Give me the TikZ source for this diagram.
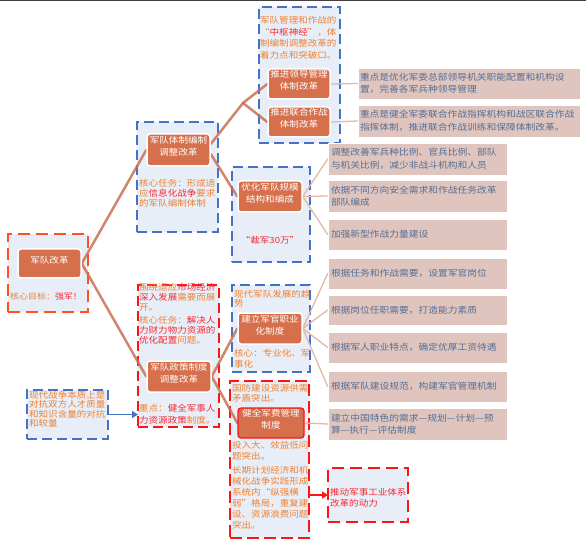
\documentclass[tikz,border=0pt]{standalone}
\usepackage{fontspec}
\newfontfamily\cjk{Noto Sans CJK SC}[FakeStretch=1.12]
\usetikzlibrary{arrows.meta,fit}
\pgfdeclarelayer{bg}
\pgfdeclarelayer{grp}
\pgfdeclarelayer{edge}
\pgfsetlayers{bg,grp,edge,main}
\definecolor{nodefill}{RGB}{214,112,76}
\definecolor{grpfill}{RGB}{232,238,247}
\definecolor{grpblue}{RGB}{68,114,196}
\definecolor{grpred}{RGB}{255,20,20}
\definecolor{grporange}{RGB}{255,80,30}
\definecolor{boxfill}{RGB}{223,197,189}
\definecolor{boxtext}{RGB}{84,110,150}
\definecolor{txtorange}{RGB}{240,128,48}
\definecolor{txtred}{RGB}{245,40,50}
\definecolor{thickc}{RGB}{200,112,84}
\definecolor{thinc}{RGB}{228,184,168}
\newcommand\txo[1]{\textcolor{txtorange}{#1}}
\newcommand\txr[1]{\textcolor{txtred}{#1}}
\begin{document}
\begin{tikzpicture}[x=1pt,y=-1pt,
  grp/.style={fill=grpfill, line width=2.2pt, dash pattern=on 10pt off 5pt, inner sep=0pt, outer sep=0pt},
  bluegrp/.style={grp, draw=grpblue},
  redgrp/.style={grp, draw=grpred},
  mnode/.style={fill=nodefill, draw=white, line width=1.5pt, rounded corners=3pt, text=white,
    align=center, inner sep=0pt, font=\cjk\fontsize{8.5}{12}\selectfont},
  tbox/.style={fill=boxfill, draw=white, line width=0.6pt, inner ysep=0pt, text=boxtext,
    align=left, font=\cjk\fontsize{8.7}{12.5}\selectfont},
  tboxA/.style={tbox, inner xsep=2pt, text width=218pt, minimum height=#1},
  tboxB/.style={tbox, inner xsep=3pt, text width=173pt, minimum height=#1},
  gtext/.style={anchor=north west, inner sep=0pt, align=left, text=txtorange},
  thickedge/.style={draw=thickc, draw opacity=0.85, line width=2.5pt, line cap=round, line join=round},
  thinedge/.style={draw=thinc, line width=1.3pt, line cap=round}
]
\useasboundingbox (0,0) rectangle (586,545);
\begin{pgfonlayer}{bg}
\fill[white] (0,0) rectangle (586,545);
\end{pgfonlayer}
\draw[black!75, line width=0.8pt] (0,0.8) -- (586,0.8);

% ---------- group containers ----------
\begin{pgfonlayer}{grp}
\node[grp, draw=grporange, dash pattern=on 12pt off 6pt, fit={(8,234) (88,312)}] (g0) {};
\node[bluegrp, fit={(137,122) (218,232)}] (g1) {};
\node[bluegrp, fit={(259,7) (340,143)}] (g2) {};
\node[bluegrp, fit={(232,167) (310,262)}] (g3) {};
\node[redgrp, fit={(138,285) (219,427)}] (g4) {};
\node[bluegrp, fit={(232,285) (310,372)}] (g5) {};
\node[redgrp, dash pattern=on 12pt off 5pt, fit={(230,381) (309,538)}] (g6) {};
\node[bluegrp, fit={(27,390) (108,439)}] (g7) {};
\node[redgrp, dash pattern=on 12pt off 6pt, fit={(328,468) (408,522)}] (g8) {};
\end{pgfonlayer}

% ---------- main nodes ----------
\node[mnode, fit={(18,249) (81,278)}] (n0) {军队改革};
\node[mnode, fit={(147,134) (210,166)}] (n1) {军队体制编制\\调整改革};
\node[mnode, fit={(268,69) (330,99)}] (n2a) {推进领导管理\\体制改革};
\node[mnode, fit={(268,107) (330,137)}] (n2b) {推进联合作战\\体制改革};
\node[mnode, fit={(238,181) (302,212)}] (n3) {优化军队规模\\结构和编成};
\node[mnode, fit={(147,361) (211,392)}] (n4) {军队政策制度\\调整改革};
\node[mnode, fit={(238,313) (302,344)}] (n5) {建立军官职业\\化制度};
\node[mnode, draw=grpred, line width=1.3pt, fit={(238,408) (304,438)}] (n6) {健全军费管理\\制度};

% ---------- right text boxes ----------
\node[tboxA=31pt] (b1) at (469,83.5) {重点是优化军委总部领导机关职能配置和机构设\\置，完善各军兵种领导管理};
\node[tboxA=32pt] (b2) at (469,121) {重点是健全军委联合作战指挥机构和战区联合作战\\指挥体制，推进联合作战训练和保障体制改革。};
\node[tboxB=32pt] (b3) at (417.5,159) {调整改善军兵种比例、官兵比例、部队\\与机关比例，减少非战斗机构和人员};
\node[tboxB=32pt] (b4) at (417.5,196) {依据不同方向安全需求和作战任务改革\\部队编成};
\node[tboxB=31pt] (b5) at (417.5,234.5) {加强新型作战力量建设};
\node[tboxB=31pt] (b6) at (417.5,273.5) {根据任务和作战需要，设置军官岗位};
\node[tboxB=30pt] (b7) at (417.5,310) {根据岗位任职需要，打造能力素质};
\node[tboxB=31pt] (b8) at (417.5,347.5) {根据军人职业特点，确定优厚工资待遇};
\node[tboxB=31pt] (b9) at (417.5,386.5) {根据军队建设规范，构建军官管理机制};
\node[tboxB=32pt] (b10) at (417.5,424) {建立中国特色的需求—规划—计划—预\\算—执行—评估制度};

% ---------- group texts ----------
\node[gtext, font=\cjk\fontsize{8}{10}\selectfont] (t0) at (10,293) {\txo{核心目标：}\txr{强军！}};
\node[gtext, font=\cjk\fontsize{8.5}{10}\selectfont] (t1) at (139,179)
  {核心任务：形成适\\应\txr{信息化战争}要求\\的军队编制体制};
\node[gtext, font=\cjk\fontsize{8.5}{11.5}\selectfont] (t2) at (260,16.5)
  {军队管理和作战的\\“\txr{中枢神经}”，体\\制编制调整改革的\\着力点和突破口。};
\node[inner sep=0pt, text=txtred, font=\cjk\fontsize{8.5}{10}\selectfont] (t3) at (270,240) {“裁军30万”};
\node[gtext, font=\cjk\fontsize{8.5}{10}\selectfont] (t4a) at (139,283)
  {围绕适应\txr{市场经济}\\\txr{深入发展}需要而展\\开。\\[3pt]核心任务：\txr{解决人}\\\txr{力财力物力资源的}\\\txr{优化配置}问题。};
\node[gtext, font=\cjk\fontsize{8.5}{12}\selectfont] (t4b) at (139,404)
  {重点：\txr{健全军事人}\\\txr{力资源政策}制度。};
\node[gtext, font=\cjk\fontsize{8.5}{9.5}\selectfont] (t5a) at (234,290)
  {现代军队发展的趋\\势};
\node[gtext, font=\cjk\fontsize{8.5}{11}\selectfont] (t5b) at (234,349)
  {核心：专业化、军\\事化};
\node[gtext, font=\cjk\fontsize{8.5}{10}\selectfont] (t6a) at (232,384)
  {国防建设资源供需\\矛盾突出。};
\node[gtext, font=\cjk\fontsize{8.5}{11}\selectfont] (t6b) at (232,441)
  {投入大、效益低问\\题突出。\\[3pt]长期计划经济和机\\械化战争实践形成\\系统内“纵强横\\弱”格局，重复建\\设、资源浪费问题\\突出。};
\node[gtext, font=\cjk\fontsize{8.5}{9.5}\selectfont] (t7) at (29,391)
  {现代战争本质上是\\对抗双方人才质量\\和知识含量的对抗\\和较量};
\node[gtext, text=txtred, font=\cjk\fontsize{8.5}{11}\selectfont] (t8) at (330,488)
  {推动军事工业体系\\改革的动力};

% ---------- connectors ----------
\coordinate (f1) at (243,103);
\begin{pgfonlayer}{edge}
\draw[thickedge] (n0.east) -- (n1.west);
\draw[thickedge] (n0.east) -- (n4.west);
\draw[thickedge] ([yshift=6pt]n1.east) -- (f1);
\draw[thickedge] (f1) -- (n2a.west);
\draw[thickedge] (f1) -- (n2b.west);
\draw[thickedge] ([yshift=-4pt]n1.east) -- (n3.west);
\draw[thickedge] (n4.east) -- (n5.west);
\draw[thickedge] (n4.east) -- (n6.west);
\draw[thinedge] (n2a.east) -- (b1.west);
\draw[thinedge] (n2b.east) -- (b2.west);
\draw[thinedge] (n3.east) -- (b3.west);
\draw[thinedge] (n3.east) -- (b4.west);
\draw[thinedge] (n3.east) -- (b5.west);
\draw[thinedge] (n5.east) -- (b6.west);
\draw[thinedge] (n5.east) -- (b7.west);
\draw[thinedge] (n5.east) -- (b8.west);
\draw[thinedge] (n5.east) -- (b9.west);
\draw[thinedge] (n6.east) -- (b10.west);
\end{pgfonlayer}
\draw[grpblue, line width=1.5pt, -{Triangle[length=6pt,width=7pt]}] (g7.east) -- (g7.east -| g4.west);
\draw[grpred, line width=2pt, -{Triangle[length=6pt,width=7pt]}] (g8.west -| g6.east) -- (g8.west);
\end{tikzpicture}
\end{document}
